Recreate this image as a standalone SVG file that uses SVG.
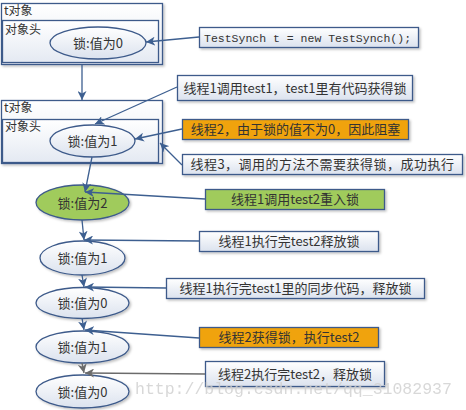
<svg xmlns="http://www.w3.org/2000/svg" width="466" height="410" viewBox="0 0 466 410">
<defs>
<linearGradient id="gb" x1="0" y1="0" x2="0" y2="1"><stop offset="0" stop-color="#ffffff"/><stop offset="1" stop-color="#dbe2ee"/></linearGradient>
<linearGradient id="gy" x1="0" y1="0" x2="0" y2="1"><stop offset="0" stop-color="#ffffff"/><stop offset="1" stop-color="#e4e9f2"/></linearGradient>
<filter id="sh" x="-10%" y="-20%" width="130%" height="160%"><feDropShadow dx="1.5" dy="1.5" stdDeviation="1" flood-color="#000" flood-opacity="0.25"/></filter>
<marker id="ah" markerUnits="userSpaceOnUse" markerWidth="10" markerHeight="9" refX="9" refY="4.5" orient="auto"><path d="M0,0 L9,4.5 L0,9 L2.5,4.5 z" fill="#3d5f90"/></marker>
<marker id="ag" markerUnits="userSpaceOnUse" markerWidth="10" markerHeight="9" refX="9" refY="4.5" orient="auto"><path d="M0,0 L9,4.5 L0,9 L2.5,4.5 z" fill="#6b6b6b"/></marker>
</defs>
<style>
.box{fill:url(#gb);stroke:#3d5a8a;stroke-width:1.3;filter:url(#sh)}
.obj{fill:url(#gy);stroke:#3d5a8a;stroke-width:1.3;filter:url(#sh)}
.org{fill:#f0a30a;stroke:#3d5a8a;stroke-width:1.3;filter:url(#sh)}
.grn{fill:#a0cb5c;stroke:#3d5a8a;stroke-width:1.3;filter:url(#sh)}
.ell{fill:url(#gb);stroke:#3d5a8a;stroke-width:1.3;filter:url(#sh)}
.t{font-family:"Noto Sans CJK SC","Liberation Sans",sans-serif;font-size:13px;fill:#333}
.c{text-anchor:middle}
.m{font-family:"Liberation Mono","DejaVu Sans Mono",monospace;font-size:11.5px;fill:#333}
.ln{stroke:#3d5f90;stroke-width:1.3;fill:none;marker-end:url(#ah)}
.lg{stroke:#6b6b6b;stroke-width:1.3;fill:none;marker-end:url(#ag)}
</style>
<g id="obj1">
<rect class="obj" x="1.5" y="3.5" width="161" height="61"/>
<rect class="obj" x="2.5" y="20.5" width="156" height="42" style="filter:none"/>
<text class="t" x="4" y="15" style="font-size:12px">t对象</text>
<text class="t" x="5" y="34" style="font-size:12px">对象头</text>
</g>
<g id="lock0a"><ellipse class="ell" cx="98" cy="43" rx="48" ry="16" style="filter:none"/><text class="t c" x="98" y="48">锁:值为0</text></g>
<g id="obj2">
<rect class="obj" x="1.5" y="100.5" width="161" height="63"/>
<rect class="obj" x="2.5" y="119.5" width="156" height="43" style="filter:none"/>
<text class="t" x="4" y="112" style="font-size:12px">t对象</text>
<text class="t" x="5" y="131" style="font-size:12px">对象头</text>
</g>
<g id="lock1a"><ellipse class="ell" cx="92.5" cy="141" rx="42.5" ry="16" style="filter:none"/><text class="t c" x="92.5" y="146">锁:值为1</text></g>
<g id="lock2"><ellipse class="grn" cx="82.5" cy="202.5" rx="46.5" ry="17.5"/><text class="t c" x="82.5" y="207.5">锁:值为2</text></g>
<g id="lock1b"><ellipse class="ell" cx="82.5" cy="258" rx="42.5" ry="17"/><text class="t c" x="82.5" y="263">锁:值为1</text></g>
<g id="lock0b"><ellipse class="ell" cx="82.5" cy="303" rx="46.5" ry="15.5"/><text class="t c" x="82.5" y="308">锁:值为0</text></g>
<g id="lock1c"><ellipse class="ell" cx="82.5" cy="347" rx="46.5" ry="16"/><text class="t c" x="82.5" y="352">锁:值为1</text></g>
<g id="lock0c"><ellipse class="ell" cx="82.5" cy="391.5" rx="46.5" ry="16.5"/><text class="t c" x="82.5" y="396.5">锁:值为0</text></g>

<g id="n-new"><rect class="box" x="199.5" y="27.5" width="219" height="20"/><text class="m" x="204" y="42">TestSynch t = new TestSynch();</text></g>
<g id="n-t1"><rect class="box" x="177.5" y="75.5" width="235" height="25"/><text class="t c" x="295" y="93">线程1调用test1，test1里有代码获得锁</text></g>
<g id="n-t2"><rect class="org" x="182.5" y="119.5" width="226" height="20"/><text class="t c" x="295.5" y="134">线程2，由于锁的值不为0，因此阻塞</text></g>
<g id="n-t3"><rect class="box" x="182.5" y="154.5" width="280" height="20"/><text class="t c" x="322.5" y="169" style="letter-spacing:0.5px">线程3，调用的方法不需要获得锁，成功执行</text></g>
<g id="n-re"><rect class="grn" x="205.5" y="189.5" width="179" height="20"/><text class="t c" x="295" y="204">线程1调用test2重入锁</text></g>
<g id="n-rel2"><rect class="box" x="199.5" y="231.5" width="179" height="20"/><text class="t c" x="289" y="246">线程1执行完test2释放锁</text></g>
<g id="n-rel1"><rect class="box" x="166.5" y="278.5" width="258" height="20"/><text class="t c" x="295.5" y="293">线程1执行完test1里的同步代码，释放锁</text></g>
<g id="n-get2"><rect class="org" x="199.5" y="327.5" width="179" height="20"/><text class="t c" x="289" y="342">线程2获得锁，执行test2</text></g>
<g id="n-rel3"><rect class="box" x="205.5" y="361.5" width="179" height="25"/><text class="t c" x="295" y="379">线程2执行完test2，释放锁</text></g>

<g id="connectors">
<line class="ln" x1="199" y1="37" x2="146" y2="42"/>
<line class="ln" x1="82" y1="65" x2="82" y2="100"/>
<line class="ln" x1="177" y1="87" x2="95" y2="124"/>
<line class="ln" x1="182" y1="129" x2="135" y2="139"/>
<line class="ln" x1="182" y1="165" x2="160" y2="143"/>
<line class="ln" x1="92" y1="157" x2="85" y2="192"/>
<line class="ln" x1="205" y1="199" x2="85" y2="192"/>
<line class="ln" x1="82" y1="220" x2="84" y2="240"/>
<line class="ln" x1="199" y1="241" x2="84" y2="240"/>
<line class="ln" x1="82" y1="275" x2="84" y2="287"/>
<line class="ln" x1="166" y1="288" x2="85" y2="287"/>
<line class="ln" x1="82" y1="318" x2="84" y2="330"/>
<line class="ln" x1="199" y1="338" x2="85" y2="330"/>
<line class="lg" x1="82" y1="363" x2="84" y2="373"/>
<line class="lg" x1="205" y1="374" x2="85" y2="373"/>
</g>
<text x="135" y="394" style="font-family:'Liberation Mono',monospace;font-size:16.5px;fill:#cfcfcf;opacity:0.8">http://blog.csdn.net/qq_31082937</text>
</svg>
